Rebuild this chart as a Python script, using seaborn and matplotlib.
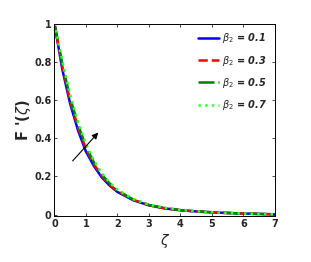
import numpy as np
import pandas as pd
import matplotlib
matplotlib.use("Agg")
import matplotlib.pyplot as plt
import seaborn as sns

# values
zeta = [0, 0.25, 0.5, 0.75, 1.0, 1.25, 1.5, 1.75, 2.0, 2.5, 3.0, 3.5, 4.0, 4.5, 5.0, 5.5, 6.0, 6.5, 7.0]
f_01 = [1.0, 0.76, 0.58, 0.44, 0.33, 0.255, 0.195, 0.152, 0.118, 0.075, 0.048, 0.032, 0.022, 0.016, 0.011, 0.008, 0.005, 0.003, 0.001]
f_03 = [1.0, 0.775, 0.595, 0.455, 0.345, 0.265, 0.203, 0.158, 0.122, 0.077, 0.049, 0.033, 0.023, 0.016, 0.011, 0.008, 0.005, 0.003, 0.001]
f_05 = [1.0, 0.79, 0.61, 0.47, 0.357, 0.274, 0.21, 0.163, 0.126, 0.079, 0.05, 0.034, 0.023, 0.017, 0.012, 0.008, 0.005, 0.003, 0.001]
f_07 = [1.0, 0.805, 0.627, 0.485, 0.37, 0.284, 0.218, 0.168, 0.13, 0.081, 0.052, 0.035, 0.024, 0.017, 0.012, 0.008, 0.005, 0.003, 0.001]
labels = [r"$\boldsymbol{\beta_2}$ = 0.1", r"$\boldsymbol{\beta_2}$ = 0.3",
          r"$\boldsymbol{\beta_2}$ = 0.5", r"$\boldsymbol{\beta_2}$ = 0.7"]
colors = ["#0000ff", "#ff0000", "#008000", "#33ff33"]
styles = ["-", "--", "-.", ":"]

sns.set_style("ticks")
plt.rcParams['font.family'] = ['DejaVu Sans']
plt.rcParams['mathtext.fontset'] = 'dejavusans'

fig = plt.figure(figsize=(3.11, 2.62), dpi=100)
ax = fig.add_axes([0.175, 0.174, 0.709, 0.736])

for ys, lab, c, ls in zip([f_01, f_03, f_05, f_07], labels, colors, styles):
    df = pd.DataFrame({"zeta": zeta, "F": ys})
    sns.lineplot(data=df, x="zeta", y="F", ax=ax, color=c, linestyle=ls,
                 linewidth=1.8, label=lab)

ax.annotate("", xy=(1.45, 0.44), xytext=(0.52, 0.27),
            arrowprops=dict(arrowstyle="-|>", color="black", lw=0.8,
                            mutation_scale=9))

ax.set_xlim(0, 7)
ax.set_ylim(-0.01, 1)
ax.set_xticks(range(0, 8))
ax.set_yticks([0, 0.2, 0.4, 0.6, 0.8, 1])
ax.set_yticklabels(["0", "0.2", "0.4", "0.6", "0.8", "1"])
ax.tick_params(direction="in", length=2.5, width=0.6, labelsize=7,
               top=True, right=True, pad=2)
for t in ax.get_xticklabels() + ax.get_yticklabels():
    t.set_fontweight("bold")
for s in ax.spines.values():
    s.set_linewidth(0.7)
    s.set_color("black")

ax.set_xlabel(r"$\zeta$", fontsize=10, labelpad=2)
ax.set_ylabel(r"$\mathbf{F}$ '($\zeta$)", fontsize=10.5, fontweight="bold", labelpad=1)

leg = ax.legend(loc="upper right", frameon=False, fontsize=7, handlelength=2.2,
                labelspacing=0.85, borderaxespad=0.4, handletextpad=0.3)
for t in leg.get_texts():
    t.set_fontweight("bold")
    t.set_fontstyle("italic")

fig.savefig("out.png", dpi=100)
